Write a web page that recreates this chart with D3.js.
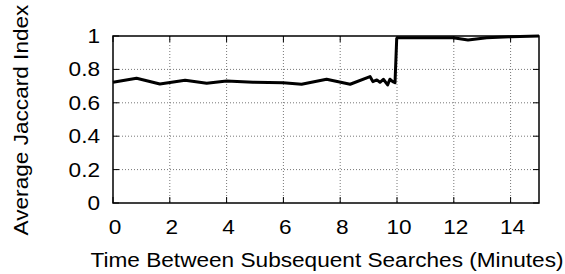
<!DOCTYPE html>
<html>
<head>
<meta charset="utf-8">
<script src="https://cdn.jsdelivr.net/npm/d3@7"></script>
<style>
  body { margin: 0; background: #fff; }
  text { font-family: "Liberation Sans", Arial, sans-serif; fill: #000; }
</style>
</head>
<body>
<div id="chart"></div>
<script>
// minutes between searches and average jaccard index
const minutes = [0, 0.83, 1.65, 2.54, 3.3, 4.0, 4.93, 5.99, 6.64, 7.52, 8.35, 9.05, 9.15, 9.29, 9.40, 9.52, 9.67, 9.75, 9.85, 9.93, 9.99, 10.05, 11.98, 12.5, 13.16, 14.0, 15];
const jaccard = [0.723, 0.747, 0.713, 0.735, 0.717, 0.73, 0.723, 0.72, 0.711, 0.741, 0.711, 0.757, 0.727, 0.737, 0.723, 0.741, 0.707, 0.741, 0.727, 0.72, 0.986, 0.99, 0.99, 0.976, 0.99, 0.995, 1.0];
const xTicks = [0, 2, 4, 6, 8, 10, 12, 14];
const yTicks = [0, 0.2, 0.4, 0.6, 0.8, 1];

const width = 565, height = 274;
const plotLeft = 113, plotRight = 539, plotTop = 36, plotBottom = 203;
const stretch = 1.16; // the original font is drawn a bit wider

const svg = d3.select("#chart").append("svg")
  .attr("width", width)
  .attr("height", height);

const x = d3.scaleLinear().domain([0, 15]).range([plotLeft, plotRight]);
const y = d3.scaleLinear().domain([0, 1]).range([plotBottom, plotTop]);

// dotted grid
const grid = svg.append("g")
  .attr("stroke", "#777")
  .attr("stroke-width", 1)
  .attr("stroke-dasharray", "1,2");

grid.selectAll(".gx")
  .data(xTicks.filter(d => d > 0))
  .enter().append("line")
  .attr("x1", d => x(d)).attr("x2", d => x(d))
  .attr("y1", plotTop).attr("y2", plotBottom);

grid.selectAll(".gy")
  .data(yTicks.filter(d => d > 0 && d < 1))
  .enter().append("line")
  .attr("x1", plotLeft).attr("x2", plotRight)
  .attr("y1", d => y(d)).attr("y2", d => y(d));

// inward ticks on all four sides
const ticks = svg.append("g").attr("stroke", "#000").attr("stroke-width", 1);
const tl = 6;
xTicks.forEach(d => {
  ticks.append("line").attr("x1", x(d)).attr("x2", x(d)).attr("y1", plotBottom).attr("y2", plotBottom - tl);
  ticks.append("line").attr("x1", x(d)).attr("x2", x(d)).attr("y1", plotTop).attr("y2", plotTop + tl);
});
yTicks.forEach(d => {
  ticks.append("line").attr("x1", plotLeft).attr("x2", plotLeft + tl).attr("y1", y(d)).attr("y2", y(d));
  ticks.append("line").attr("x1", plotRight).attr("x2", plotRight - tl).attr("y1", y(d)).attr("y2", y(d));
});

// tick labels
svg.selectAll(".xl")
  .data(xTicks)
  .enter().append("text")
  .attr("transform", d => `translate(${x(d) + 2},234) scale(${stretch},1)`)
  .attr("text-anchor", "middle")
  .style("font-size", "19.5px")
  .text(d => d);

svg.selectAll(".yl")
  .data(yTicks)
  .enter().append("text")
  .attr("transform", d => `translate(100,${y(d) + 7}) scale(${stretch},1)`)
  .attr("text-anchor", "end")
  .style("font-size", "19.5px")
  .text(d => d);

// axis titles
svg.append("text")
  .attr("transform", `translate(327,267) scale(${stretch},1)`)
  .attr("text-anchor", "middle")
  .style("font-size", "19.5px")
  .text("Time Between Subsequent Searches (Minutes)");

svg.append("text")
  .attr("transform", `translate(28,120) rotate(-90) scale(${stretch},1)`)
  .attr("text-anchor", "middle")
  .style("font-size", "19.5px")
  .text("Average Jaccard Index");

// data line
const line = d3.line()
  .x((d, i) => x(minutes[i]))
  .y(d => y(d));

svg.append("path")
  .datum(jaccard)
  .attr("fill", "none")
  .attr("stroke", "#000")
  .attr("stroke-width", 3)
  .attr("stroke-linejoin", "round")
  .attr("d", line);

// frame
svg.append("rect")
  .attr("x", plotLeft).attr("y", plotTop)
  .attr("width", plotRight - plotLeft).attr("height", plotBottom - plotTop)
  .attr("fill", "none")
  .attr("stroke", "#000")
  .attr("stroke-width", 1.5);
</script>
</body>
</html>
